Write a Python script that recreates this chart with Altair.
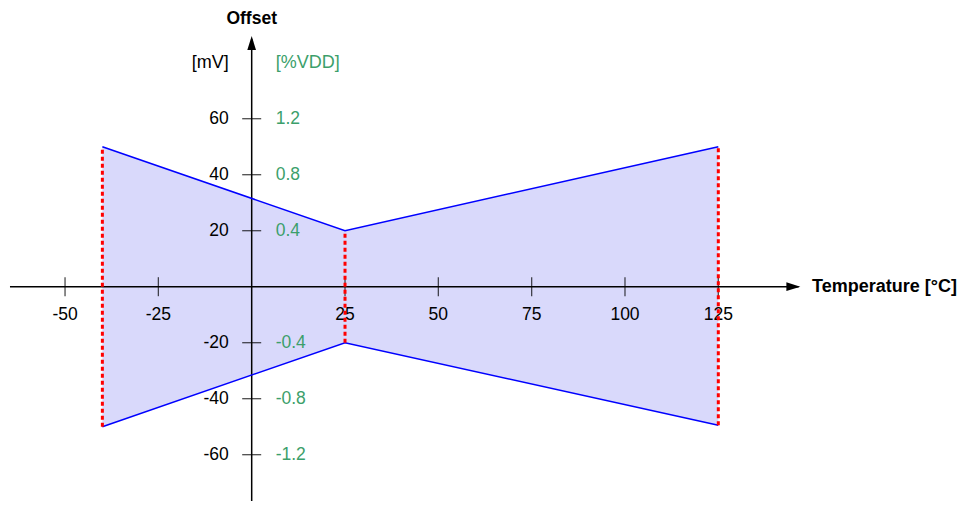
import altair as alt
import pandas as pd

# Data
temps = [-40, 25, 125]
upper = [50, 20, 50]
lower = [-50, -20, -49.5]

x_ticks = [-50, -25, 25, 50, 75, 100, 125]
x_tick_labels = ["-50", "-25", "25", "50", "75", "100", "125"]
y_ticks = [60, 40, 20, -20, -40, -60]
y_mv_labels = ["60", "40", "20", "-20", "-40", "-60"]
y_vdd_labels = ["1.2", "0.8", "0.4", "-0.4", "-0.8", "-1.2"]

GREEN = "#3c9f6b"
FONT = "Liberation Sans"

XMIN, XMAX = -65.28, 188.94
YMIN, YMAX = -76.54, 99.54

xs = alt.Scale(domain=[XMIN, XMAX], nice=False, zero=False)
ys = alt.Scale(domain=[YMIN, YMAX], nice=False, zero=False)

band = pd.DataFrame({"t": temps, "hi": upper, "lo": lower})
xt = pd.DataFrame({"v": x_ticks, "lab": x_tick_labels})
yt = pd.DataFrame({"v": y_ticks, "mv": y_mv_labels, "vdd": y_vdd_labels})

X = lambda f: alt.X(f, type="quantitative", scale=xs, axis=None)
Y = lambda f: alt.Y(f, type="quantitative", scale=ys, axis=None)

area = alt.Chart(band).mark_area(color="#d9d9fb", opacity=1).encode(
    x=X("t"), y=Y("hi"), y2="lo"
)

axes_df = pd.DataFrame({"x1": [-64.75, 0], "x2": [146.5, 0], "y1": [0, YMIN], "y2": [0, 88.5]})
axes = alt.Chart(axes_df).mark_rule(color="black", strokeWidth=1.5).encode(
    x=X("x1"), x2="x2", y=Y("y1"), y2="y2"
)

arrows_df = pd.DataFrame({"x": [145.1], "y": [0]})
arrow_x = alt.Chart(arrows_df).mark_point(
    shape="M -1 -0.62 L 1 0 L -1 0.62 Z", size=196, filled=True, color="black", opacity=1
).encode(x=X("x"), y=Y("y"))
arrow_y_df = pd.DataFrame({"x": [0], "y": [87.0]})
arrow_y = alt.Chart(arrow_y_df).mark_point(
    shape="M -0.62 1 L 0 -1 L 0.62 1 Z", size=196, filled=True, color="black", opacity=1
).encode(x=X("x"), y=Y("y"))

xtick = alt.Chart(xt).mark_tick(orient="vertical", size=19, thickness=1.3, color="black").encode(
    x=X("v"), y=alt.YDatum(0, scale=ys, axis=None)
)
ytick = alt.Chart(yt).mark_tick(orient="horizontal", size=19, thickness=1.3, color="black").encode(
    y=Y("v"), x=alt.XDatum(0, scale=xs, axis=None)
)

xlab = alt.Chart(xt).mark_text(font=FONT, fontSize=17.5, color="black", dy=28, baseline="middle").encode(
    x=X("v"), y=alt.YDatum(0, scale=ys, axis=None), text="lab:N"
)
ylab_mv = alt.Chart(yt).mark_text(font=FONT, fontSize=17.5, color="black", align="right", dx=-23, baseline="middle").encode(
    y=Y("v"), x=alt.XDatum(0, scale=xs, axis=None), text="mv:N"
)
ylab_vdd = alt.Chart(yt).mark_text(font=FONT, fontSize=17.5, color=GREEN, align="left", dx=24, baseline="middle").encode(
    y=Y("v"), x=alt.XDatum(0, scale=xs, axis=None), text="vdd:N"
)

units_df = pd.DataFrame({"x": [0], "y": [80], "mv": ["[mV]"], "vdd": ["[%VDD]"]})
unit_mv = alt.Chart(units_df).mark_text(font=FONT, fontSize=18, color="black", align="right", dx=-23, baseline="middle").encode(
    x=X("x"), y=Y("y"), text="mv:N"
)
unit_vdd = alt.Chart(units_df).mark_text(font=FONT, fontSize=18, color=GREEN, align="left", dx=24, baseline="middle").encode(
    x=X("x"), y=Y("y"), text="vdd:N"
)

titles_df = pd.DataFrame({"x": [0, 150.1], "y": [95.6, 0], "txt": ["Offset", "Temperature [°C]"]})
title_off = alt.Chart(titles_df.iloc[[0]]).mark_text(font=FONT, fontSize=17.5, fontWeight="bold", color="black", align="center", baseline="middle").encode(
    x=X("x"), y=Y("y"), text="txt:N"
)
title_temp = alt.Chart(titles_df.iloc[[1]]).mark_text(font=FONT, fontSize=18, fontWeight="bold", color="black", align="left", baseline="middle").encode(
    x=X("x"), y=Y("y"), text="txt:N"
)

line_hi = alt.Chart(band).mark_line(color="#0000ff", strokeWidth=1.5).encode(x=X("t"), y=Y("hi"))
line_lo = alt.Chart(band).mark_line(color="#0000ff", strokeWidth=1.5).encode(x=X("t"), y=Y("lo"))

red = alt.Chart(band).mark_rule(color="#ff0000", strokeWidth=3, strokeDash=[4, 3]).encode(
    x=X("t"), y=Y("lo"), y2="hi"
)

chart = alt.layer(
    area, axes, arrow_x, arrow_y, xtick, ytick, xlab, ylab_mv, ylab_vdd,
    unit_mv, unit_vdd, title_off, title_temp, line_hi, line_lo, red
).properties(
    width=949, height=493,
    autosize=alt.AutoSizeParams(type="none"),
    padding=0,
).configure(background="white", view=alt.ViewConfig(stroke=None))

chart.save("out.html", embed_options={"renderer": "svg", "actions": False})
